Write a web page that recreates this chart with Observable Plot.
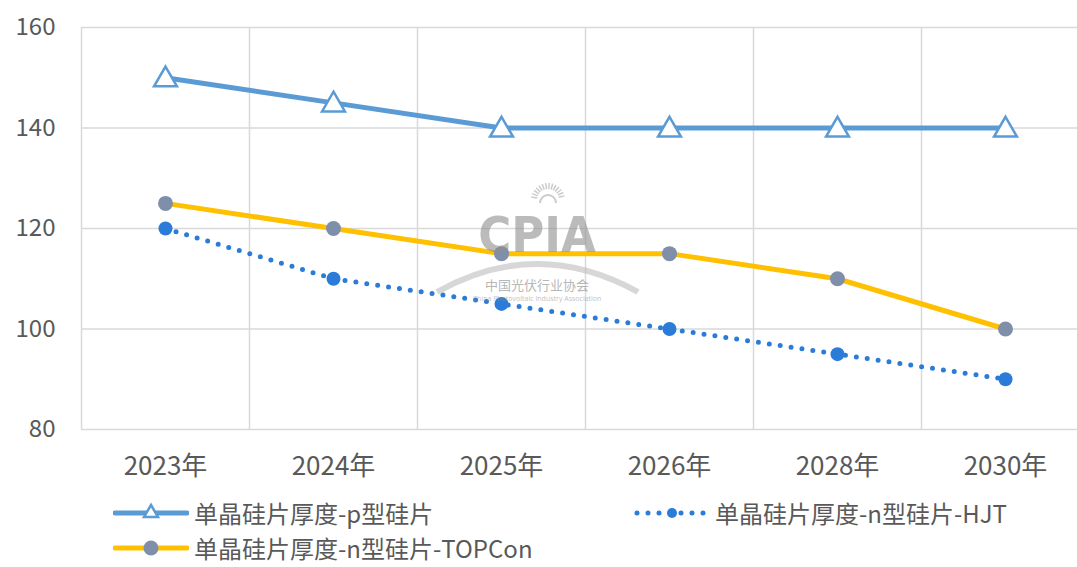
<!DOCTYPE html>
<html><head><meta charset="utf-8">
<script src="https://cdn.jsdelivr.net/npm/d3@7"></script>
<script src="https://cdn.jsdelivr.net/npm/@observablehq/plot@0.6"></script>
<style>
body{margin:0;background:#fff;font-family:"Noto Sans CJK SC","Open Sans",sans-serif;}
#wrap{position:relative;width:1077px;height:567px;overflow:hidden;background:#fff;}
#chart{position:absolute;left:0;top:0;}
.leg{position:absolute;display:flex;align-items:center;font-size:24px;line-height:28px;color:#595959;white-space:nowrap;font-family:"Noto Sans CJK SC","Open Sans",sans-serif;height:28px;}
.leg svg{margin-right:5px;}
#wm{position:absolute;left:0;top:0;pointer-events:none;}
</style></head><body>
<div id="wrap">
  <div id="chart"></div>
  <div id="legend"></div>
</div>
<script>
const years = ["2023年","2024年","2025年","2026年","2028年","2030年"];
const pType = [150,145,140,140,140,140];
const hjt = [120,110,105,100,95,90];
const topcon = [125,120,115,115,110,100];
const yTicks = [80,100,120,140,160];
const seriesNames = ["单晶硅片厚度-p型硅片","单晶硅片厚度-n型硅片-HJT","单晶硅片厚度-n型硅片-TOPCon"];

const blue = "#5B9BD5", dotBlue = "#2B7BD8", yellow = "#FFC000", grey = "#7F8FA9";
const font = '"Noto Sans CJK SC","Open Sans",sans-serif';

const pData = years.map((x,i)=>({x, y:pType[i]}));
const hData = years.map((x,i)=>({x, y:hjt[i]}));
const tData = years.map((x,i)=>({x, y:topcon[i]}));

const chart = Plot.plot({
  width: 1077,
  height: 490,
  marginLeft: 81,
  marginRight: 0,
  marginTop: 27,
  marginBottom: 61,
  style: {fontFamily: font, fontSize: "24px", color: "#595959", background: "transparent", overflow: "hidden"},
  x: {type: "point", domain: years, range: [81, 1089], padding: 0.5},
  y: {domain: [80, 160], ticks: yTicks},
  marks: [
    Plot.gridY(yTicks, {stroke: "#d9d9d9", strokeOpacity: 1, strokeWidth: 1.5}),
    Plot.ruleX(years, {x: d => d, dx: -84, stroke: "#d9d9d9", strokeWidth: 1.5}),
    Plot.axisY(yTicks, {tickSize: 0, tickPadding: 26, fontSize: 24, fill: "#595959", label: null, fontFamily: font}),
    Plot.axisX(years, {tickSize: 0, tickPadding: 27, fontSize: 26, fill: "#595959", label: null, fontFamily: font}),
    Plot.line(pData, {x: "x", y: "y", stroke: blue, strokeWidth: 5}),
    Plot.dot(pData, {x: "x", y: "y", symbol: "triangle", r: 8.5, fill: "white", stroke: blue, strokeWidth: 2.5, dy: 2}),
    Plot.line(hData, {x: "x", y: "y", stroke: dotBlue, strokeWidth: 5, strokeDasharray: "0 11", strokeLinecap: "round"}),
    Plot.dot(hData, {x: "x", y: "y", r: 7, fill: dotBlue}),
    Plot.line(tData, {x: "x", y: "y", stroke: yellow, strokeWidth: 5}),
    Plot.dot(tData, {x: "x", y: "y", r: 7.5, fill: grey})
  ]
});
document.getElementById("chart").append(chart);

// watermark
const rays = d3.range(-80, 81, 12).map(a => {
  const r = a * Math.PI / 180;
  return `<line x1="${548 + 11*Math.sin(r)}" y1="${200 - 11*Math.cos(r)}" x2="${548 + 17*Math.sin(r)}" y2="${200 - 17*Math.cos(r)}" stroke="#aaa" stroke-width="1.5"/>`;
}).join("");
const wm = `<svg id="wm" width="1077" height="490">
  <g opacity="0.6">
    <path d="M437,292 Q537,236 638,292" fill="none" stroke="#bdbdbd" stroke-width="6"/>
    <path d="M540,203 A8,8 0 0 1 556,203" fill="none" stroke="#aaa" stroke-width="2"/>
    ${rays}
    <text x="537" y="252" text-anchor="middle" font-size="50" font-weight="bold" font-family="Liberation Sans Narrow, DejaVu Sans Condensed" fill="#8f8f8f">CPIA</text>
    <text x="537" y="290" text-anchor="middle" font-size="13" font-family="Noto Sans CJK SC" fill="#888">中国光伏行业协会</text>
    <text x="537" y="301" text-anchor="middle" font-size="7" font-family="Open Sans" fill="#999">China Photovoltaic Industry Association</text>
  </g></svg>`;
document.getElementById("chart").insertAdjacentHTML("beforeend", wm);

// legend
const legend = document.getElementById("legend");
function item(left, top, sw, name){
  const d = document.createElement("div");
  d.className = "leg";
  d.style.left = left + "px"; d.style.top = top + "px";
  d.innerHTML = sw + `<span>${name}</span>`;
  legend.append(d);
}
item(113, 499, `<svg width="76" height="28"><line x1="2" y1="14" x2="74" y2="14" stroke="${blue}" stroke-width="5" stroke-linecap="round"/><path d="M38,6 L45,18 L31,18 Z" fill="white" stroke="${blue}" stroke-width="2.5"/></svg>`, seriesNames[0]);
item(634, 499, `<svg width="76" height="28"><line x1="3" y1="14" x2="72" y2="14" stroke="${dotBlue}" stroke-width="5" stroke-dasharray="0 11" stroke-linecap="round"/><circle cx="38" cy="14" r="5" fill="${dotBlue}"/></svg>`, seriesNames[1]);
item(113, 534, `<svg width="76" height="28"><line x1="2" y1="14" x2="74" y2="14" stroke="${yellow}" stroke-width="5" stroke-linecap="round"/><circle cx="38" cy="14" r="7.5" fill="${grey}"/></svg>`, seriesNames[2]);
</script>
</body></html>
